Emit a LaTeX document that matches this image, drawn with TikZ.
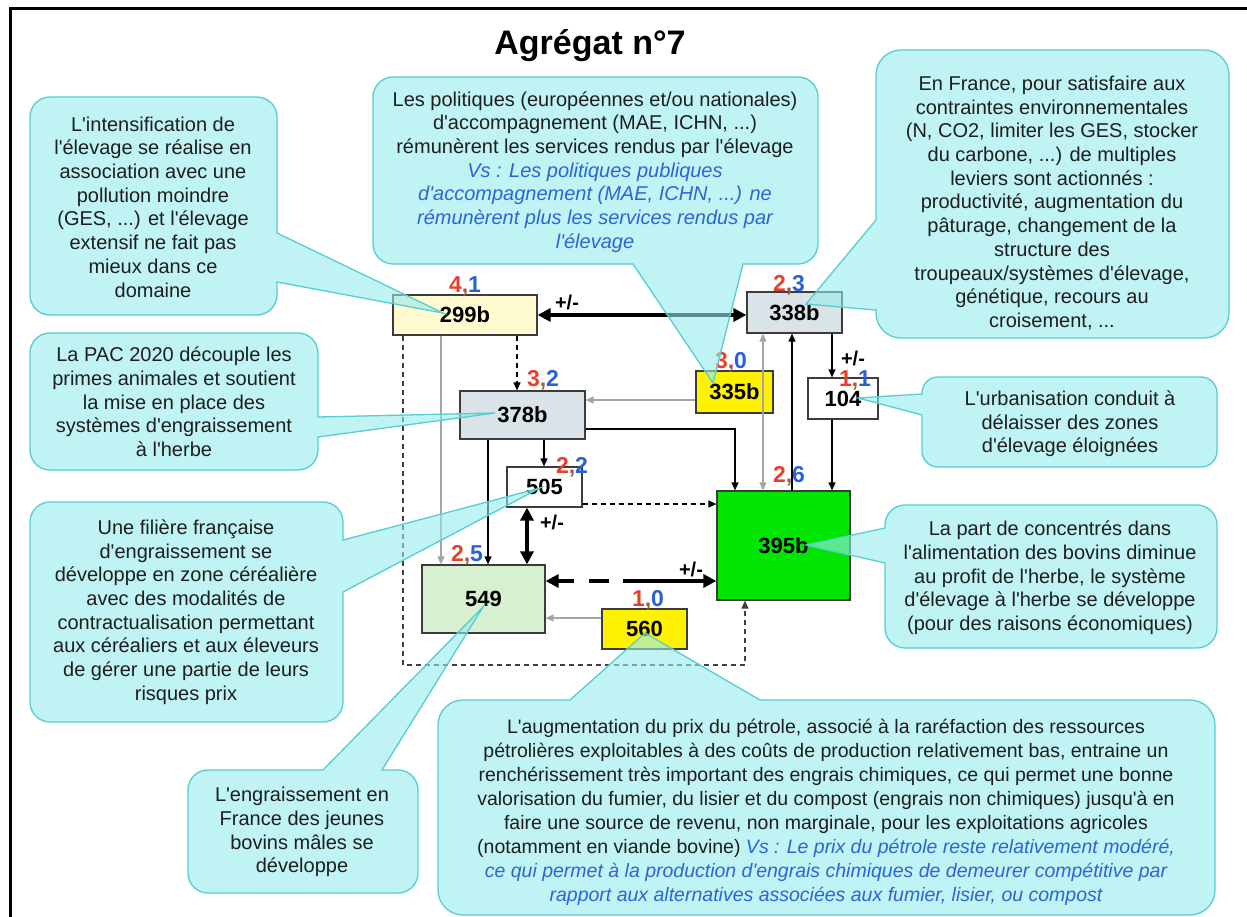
\documentclass[tikz,border=0pt]{standalone}
\usepackage{fontspec}
\setmainfont{Liberation Sans}[Ligatures=TeXOff]
\usetikzlibrary{arrows.meta}
\definecolor{cofill}{RGB}{150,235,235}
\definecolor{coline}{RGB}{85,205,210}
\definecolor{boxline}{RGB}{60,60,60}
\definecolor{paleyellow}{RGB}{255,250,208}
\definecolor{bluegrey}{RGB}{218,228,232}
\definecolor{vivgreen}{RGB}{0,230,0}
\definecolor{palegreen}{RGB}{214,240,208}
\definecolor{numred}{RGB}{232,64,40}
\definecolor{numcomma}{RGB}{160,90,70}
\definecolor{numblue}{RGB}{40,96,220}
\definecolor{vsblue}{RGB}{45,100,215}
\definecolor{arrgrey}{RGB}{165,165,165}
\definecolor{txt}{RGB}{30,30,30}
\newcommand{\duo}[2]{\textcolor{numred}{#1}\textcolor{numcomma}{,}\textcolor{numblue}{#2}}
\newcommand{\vsb}[1]{{\color{vsblue}\itshape #1}}
\begin{document}
\begin{tikzpicture}[x=1pt,y=-1pt,
  box/.style={draw=boxline, line width=1.2pt, inner sep=0pt, text=black,
    font=\bfseries\fontsize{22}{22}\selectfont},
  num/.style={font=\bfseries\fontsize{23}{23}\selectfont, inner sep=0pt},
  pm/.style={font=\bfseries\fontsize{20}{20}\selectfont, inner sep=0pt},
  link/.style={line width=1.3pt, -{Triangle[length=8pt,width=7pt]}},
  greylink/.style={link, draw=arrgrey},
  dashlink/.style={link, dash pattern=on 5pt off 4pt},
  heavy/.style={line width=3.5pt, {Triangle[length=13pt,width=13pt]}-{Triangle[length=13pt,width=13pt]}},
  callout/.style={fill=cofill, fill opacity=0.6, draw=coline, line width=1.3pt},
  cotext/.style={align=center, text=txt, inner sep=0pt, font=\fontsize{20}{23.7}\selectfont}
]
\useasboundingbox (0,0) rectangle (1247,917);
\clip (0,0) rectangle (1247,917);

% outer frame
\draw[line width=3pt] (10,1000) -- (10,8.5) -- (1300,8.5);

% title
\node[font=\bfseries\fontsize{34}{34}\selectfont, anchor=base] (title) at (590,55) {Agrégat n°7};

% variable boxes
\node[box, fill=paleyellow, minimum width=144pt, minimum height=40pt] (b299) at (465,315) {299b};
\node[box, fill=bluegrey, minimum width=95pt, minimum height=41pt] (b338) at (794.5,312.5) {338b};
\node[box, fill=yellow, minimum width=77pt, minimum height=42pt] (b335) at (734.5,392) {335b};
\node[box, fill=white, minimum width=70pt, minimum height=41pt] (b104) at (843,398.5) {104};
\node[box, fill=bluegrey, minimum width=125pt, minimum height=48pt] (b378) at (522.5,415) {378b};
\node[box, fill=white, minimum width=75pt, minimum height=40pt] (b505) at (544.5,487) {505};
\node[box, fill=vivgreen, minimum width=133pt, minimum height=109pt] (b395) at (783.5,545.5) {395b};
\node[box, fill=palegreen, minimum width=123pt, minimum height=68pt] (b549) at (483.5,599) {549};
\node[box, fill=yellow, minimum width=85pt, minimum height=40pt] (b560) at (644.5,629) {560};

% routing columns and rows
\coordinate (x403) at (403,0);
\coordinate (x441) at (441,0);
\coordinate (x488) at (488,0);
\coordinate (x517) at (517,0);
\coordinate (x527) at (527,0);
\coordinate (x544) at (544,0);
\coordinate (x763) at (763,0);
\coordinate (x792) at (792,0);
\coordinate (x832) at (832,0);
\coordinate (y400) at (0,400);
\coordinate (y504) at (0,504);
\coordinate (y581) at (0,581);
\coordinate (y618) at (0,618);
\coordinate (bendA) at (735,429);
\coordinate (loopL) at (403,665);
\coordinate (loopR) at (745,665);

% connectors
\draw[heavy] (b299.east) -- (b299.east -| b338.west);
\draw[dashlink] (b299.south -| x517) -- (b378.north -| x517);
\draw[greylink] (b299.south -| x441) -- (b549.north -| x441);
\draw[dashlink, draw=black!75] (b299.south -| loopL) -- (loopL) -- (loopR) -- (b395.south -| loopR);
\draw[link] (b378.south -| x488) -- (b549.north -| x488);
\draw[link] (b378.south -| x544) -- (b505.north -| x544);
\draw[link] (b378.east |- bendA) -- (bendA) -- (b395.north -| bendA);
\draw[greylink] (b335.west |- y400) -- (b378.east |- y400);
\draw[greylink, {Triangle[length=8pt,width=7pt]}-{Triangle[length=8pt,width=7pt]}] (b338.south -| x763) -- (b395.north -| x763);
\draw[link] (b395.north -| x792) -- (b338.south -| x792);
\draw[link] (b338.south -| x832) -- (b104.north -| x832);
\draw[link] (b104.south -| x832) -- (b395.north -| x832);
\draw[dashlink] (b505.east |- y504) -- (b395.west |- y504);
\draw[heavy] (b505.south -| x527) -- (b549.north -| x527);
\draw[heavy, line width=3.3pt, dash pattern=on 16pt off 15pt on 20pt off 14pt on 200pt] (b549.east |- y581) -- (b395.west |- y581);
\draw[greylink] (b560.west |- y618) -- (b549.east |- y618);

% sign labels
\node[pm] (pm1) at (567,302) {+/-};
\node[pm] (pm2) at (853,358) {+/-};
\node[pm] (pm3) at (552,522) {+/-};
\node[pm] (pm4) at (691,569) {+/-};

% scores above the boxes
\node[num] (n299) at (465,286) {\duo{4}{1}};
\node[num] (n338) at (789,285) {\duo{2}{3}};
\node[num] (n335) at (731,362) {\duo{3}{0}};
\node[num] (n378) at (543,380) {\duo{3}{2}};
\node[num] (n104) at (855,380) {\duo{1}{1}};
\node[num] (n505) at (572,467) {\duo{2}{2}};
\node[num] (n395) at (789,476) {\duo{2}{6}};
\node[num] (n549) at (467,555) {\duo{2}{5}};
\node[num] (n560) at (648,600) {\duo{1}{0}};

% callouts
\path[callout] (50,97) -- (257,97) arc[start angle=90,end angle=0,radius=20pt] -- (277,233) -- (443,313) -- (277,282) -- (277,295) arc[start angle=0,end angle=-90,radius=20pt] -- (50,315) arc[start angle=-90,end angle=-180,radius=20pt] -- (30,117) arc[start angle=180,end angle=90,radius=20pt] -- cycle;
\path[callout] (393,77) -- (798,77) arc[start angle=90,end angle=0,radius=20pt] -- (818,244) arc[start angle=0,end angle=-90,radius=20pt] -- (743,264) -- (713,383) -- (633,264) -- (393,264) arc[start angle=-90,end angle=-180,radius=20pt] -- (373,97) arc[start angle=180,end angle=90,radius=20pt] -- cycle;
\path[callout] (901,50) -- (1204,50) arc[start angle=90,end angle=0,radius=25pt] -- (1229,313) arc[start angle=0,end angle=-90,radius=25pt] -- (901,338) arc[start angle=-90,end angle=-180,radius=25pt] -- (876,310) -- (806,304) -- (876,220) -- (876,75) arc[start angle=180,end angle=90,radius=25pt] -- cycle;
\path[callout] (50,333) -- (298,333) arc[start angle=90,end angle=0,radius=20pt] -- (318,417) -- (495,413) -- (318,437) -- (318,450) arc[start angle=0,end angle=-90,radius=20pt] -- (50,470) arc[start angle=-90,end angle=-180,radius=20pt] -- (30,353) arc[start angle=180,end angle=90,radius=20pt] -- cycle;
\path[callout] (50,502) -- (323,502) arc[start angle=90,end angle=0,radius=20pt] -- (343,540) -- (540,488) -- (343,592) -- (343,702) arc[start angle=0,end angle=-90,radius=20pt] -- (50,722) arc[start angle=-90,end angle=-180,radius=20pt] -- (30,522) arc[start angle=180,end angle=90,radius=20pt] -- cycle;
\path[callout] (208,770) -- (323,770) -- (483,607) -- (382,770) -- (398,770) arc[start angle=90,end angle=0,radius=20pt] -- (418,873) arc[start angle=0,end angle=-90,radius=20pt] -- (208,893) arc[start angle=-90,end angle=-180,radius=20pt] -- (188,790) arc[start angle=180,end angle=90,radius=20pt] -- cycle;
\path[callout] (463,700) -- (570,700) -- (645,633) -- (760,700) -- (1190,700) arc[start angle=90,end angle=0,radius=25pt] -- (1215,890) arc[start angle=0,end angle=-90,radius=25pt] -- (463,915) arc[start angle=-90,end angle=-180,radius=25pt] -- (438,725) arc[start angle=180,end angle=90,radius=25pt] -- cycle;
\path[callout] (938,377) -- (1201,377) arc[start angle=90,end angle=0,radius=16pt] -- (1217,451) arc[start angle=0,end angle=-90,radius=16pt] -- (938,467) arc[start angle=-90,end angle=-180,radius=16pt] -- (922,415) -- (858,398) -- (922,394) -- (922,393) arc[start angle=180,end angle=90,radius=16pt] -- cycle;
\path[callout] (905,505) -- (1197,505) arc[start angle=90,end angle=0,radius=20pt] -- (1217,628) arc[start angle=0,end angle=-90,radius=20pt] -- (905,648) arc[start angle=-90,end angle=-180,radius=20pt] -- (885,563) -- (806,545) -- (885,528) -- (885,525) arc[start angle=180,end angle=90,radius=20pt] -- cycle;

% callout texts
\node[cotext] (tA) at (153,207) {L'intensification de\\l'élevage se réalise en\\association avec une\\pollution moindre\\(GES, ...) et l'élevage\\extensif ne fait pas\\mieux dans ce\\domaine};
\node[cotext] (tB) at (595,172) {Les politiques (européennes et/ou nationales)\\d'accompagnement (MAE, ICHN, ...)\\rémunèrent les services rendus par l'élevage\\\vsb{Vs : Les politiques publiques}\\\vsb{d'accompagnement (MAE, ICHN, ...) ne}\\\vsb{rémunèrent plus les services rendus par}\\\vsb{l'élevage}};
\node[cotext] (tC) at (1052,203) {En France, pour satisfaire aux\\contraintes environnementales\\(N, CO2, limiter les GES, stocker\\du carbone, ...) de multiples\\leviers sont actionnés :\\productivité, augmentation du\\pâturage, changement de la\\structure des\\troupeaux/systèmes d'élevage,\\génétique, recours au\\croisement, ...};
\node[cotext] (tD) at (174,402) {La PAC 2020 découple les\\primes animales et soutient\\la mise en place des\\systèmes d'engraissement\\à l'herbe};
\node[cotext] (tE) at (186,612) {Une filière française\\d'engraissement se\\développe en zone céréalière\\avec des modalités de\\contractualisation permettant\\aux céréaliers et aux éleveurs\\de gérer une partie de leurs\\risques prix};
\node[cotext] (tF) at (302,832) {L'engraissement en\\France des jeunes\\bovins mâles se\\développe};
\node[cotext, font=\fontsize{19.5}{24}\selectfont] (tG) at (826,812) {L'augmentation du prix du pétrole, associé à la raréfaction des ressources\\pétrolières exploitables à des coûts de production relativement bas, entraine un\\renchérissement très important des engrais chimiques, ce qui permet une bonne\\valorisation du fumier, du lisier et du compost (engrais non chimiques) jusqu'à en\\faire une source de revenu,  non marginale, pour les exploitations agricoles\\(notamment en viande bovine) \vsb{Vs : Le prix du pétrole reste relativement modéré,}\\\vsb{ce qui permet à la production d'engrais chimiques de demeurer compétitive par}\\\vsb{rapport aux alternatives associées aux fumier, lisier, ou compost}};
\node[cotext] (tH) at (1070,424) {L'urbanisation conduit à\\délaisser des zones\\d'élevage éloignées};
\node[cotext] (tI) at (1050,578) {La part de concentrés dans\\l'alimentation des bovins diminue\\au profit de l'herbe, le système\\d'élevage à l'herbe se développe\\(pour des raisons économiques)};
\end{tikzpicture}
\end{document}
